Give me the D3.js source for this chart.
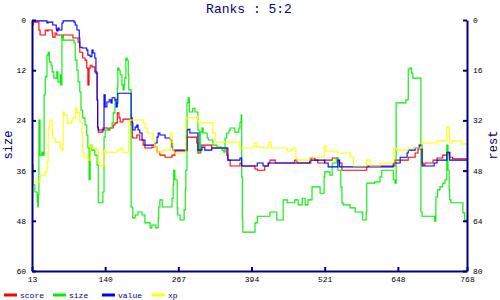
<!DOCTYPE html>
<html><head><meta charset="utf-8">
<script src="https://cdn.jsdelivr.net/npm/d3@7"></script>
<style>
html,body{margin:0;padding:0;background:#fff;}
svg{display:block;}
text{font-family:"Liberation Mono",monospace;}
</style></head>
<body><svg id="c" width="500" height="300"></svg>
<script>
const title = "Ranks : 5:2";
const leftLabel = "size";
const rightLabel = "rest";
const xTicks = [13,140,267,394,521,648,768];
const leftTicks = [0,12,24,36,48,60];
const rightTicks = [0,16,32,48,64,80];
const seriesNames = ["score","size","value","xp"];
const seriesColors = ["#ff0000","#00ee00","#0000ff","#ffff00"];

const score = [[13,1.2],[15,0.5],[25,2.4],[27,3.6],[36,2.4],[39,2.6],[41,2.4],[48,3.1],[49,4.1],[53,3.1],[56,3.6],[65,4.1],[67,3.6],[84,4.3],[93,5.3],[96,7.7],[101,9.1],[105,9.6],[108,11.5],[110,15.5],[112,11.5],[114,10.8],[117,11.2],[122,12.4],[126,19.1],[127,25.8],[128,26.8],[136,25.8],[145,26.3],[148,25.8],[154,25.1],[157,24.6],[161,22.2],[164,23.4],[166,24.4],[171,23.7],[185,25.1],[187,28],[188,28.2],[195,27.5],[200,28.7],[206,29.9],[209,30.6],[221,30.4],[230,31.6],[235,32.3],[244,32.8],[256,32.3],[261,31.3],[282,28],[299,29.4],[301,31.8],[306,29.9],[325,30.6],[351,32.3],[353,33.5],[357,34.9],[374,34.2],[377,34.9],[400,35.6],[404,35.9],[417,34.9],[423,34.2],[426,33.5],[435,34.2],[469,33.5],[473,34.2],[497,33],[504,33.5],[509,34.2],[521,33.5],[534,33],[544,34.2],[551,35.9],[594,34.9],[643,33.5],[666,32.8],[678,31.8],[683,30.8],[690,34.2],[692,34.7],[695,34.2],[709,33.5],[716,33],[726,32.3],[735,31.6],[738,32.8],[743,33.2],[768,33.2]];

const size = [[13,34.7],[15,39.4],[18,41.1],[22,43.5],[23,44.7],[24,41.8],[25,23.9],[27,32.3],[30,31.6],[32,32.3],[34,17.9],[36,13.6],[39,8.4],[41,7.7],[43,10],[46,10.8],[48,12.4],[51,13.9],[56,12.4],[58,14.8],[62,13.1],[63,15.5],[65,3.6],[67,4.8],[86,5.5],[88,9.6],[91,12],[93,14.8],[96,17.2],[98,21.5],[101,23.4],[105,25.1],[108,27.5],[110,30.6],[112,38.2],[114,29.9],[117,31.1],[122,32.3],[126,34.7],[128,43.7],[136,41.1],[138,28],[140,26.3],[148,25.8],[152,24.6],[154,22.2],[157,19.1],[161,16.3],[162,11.5],[164,12],[166,13.1],[169,15.5],[171,16.7],[173,15.5],[174,13.9],[176,9.1],[178,9.6],[180,13.1],[181,16.7],[185,44.7],[187,44.9],[188,47.3],[192,46.6],[197,45.9],[204,46.6],[209,48.5],[218,49.7],[221,49],[228,49.7],[232,47.3],[233,44.7],[235,43],[239,44.7],[256,42.6],[258,39.4],[259,35.9],[261,38.2],[265,44.9],[266,46.6],[270,47.8],[277,45.4],[279,40.6],[280,35.9],[282,19.8],[284,18.6],[286,22],[292,21.1],[296,22],[301,26.3],[303,31.8],[305,26.8],[308,25.8],[310,27],[317,28.2],[319,28.7],[327,29.9],[334,30.4],[343,31.1],[346,31.6],[348,28.2],[351,27],[355,26.3],[357,25.8],[365,26.8],[372,25.8],[374,24.4],[376,22.7],[377,37.5],[378,47.8],[379,50.7],[400,48.5],[404,46.9],[426,45.9],[438,47.8],[449,43],[456,43.7],[469,43],[475,44.2],[482,42.6],[487,44.2],[492,43],[499,39.9],[513,41.4],[520,37.5],[521,36.3],[530,37.1],[534,34.2],[541,33],[544,35.9],[549,39.9],[551,43.7],[553,44.2],[565,44.9],[574,45.9],[587,47.8],[593,45.9],[594,39],[608,38.7],[617,37.5],[620,35.9],[640,38.2],[643,39],[645,19.8],[662,19.1],[666,11.7],[669,11.5],[672,12.7],[674,13.9],[688,45.9],[690,46.9],[712,48.1],[714,42.3],[717,40.6],[721,39.9],[726,39],[730,38.2],[733,29.9],[735,35.9],[737,40.6],[738,43],[740,43.7],[759,43.7],[761,46.1],[764,47.8],[768,48.5]];

const value = [[13,0.2],[39,0.7],[41,0.5],[49,1.2],[55,2.2],[56,2.6],[58,1.9],[60,2.4],[65,0.7],[67,0.2],[86,0.5],[88,1.2],[91,2.4],[95,4.3],[96,6.5],[100,6.7],[108,7.2],[110,8.4],[114,8.8],[117,7.2],[119,7.9],[122,9.1],[124,12.7],[126,19.1],[127,25.6],[128,26.3],[136,26.3],[138,17.9],[140,20.8],[143,19.6],[147,19.1],[150,19.8],[152,18.6],[157,19.1],[159,20.8],[161,19.8],[162,17.5],[183,17.5],[185,23.4],[187,24.6],[188,26.3],[192,25.6],[195,25.1],[197,26.3],[200,27],[204,28.7],[209,29.9],[226,29.4],[230,28],[232,27],[235,27.5],[244,28.2],[253,28.7],[256,30.4],[258,31.1],[282,26.3],[284,26.1],[287,27],[301,31.1],[308,30.4],[313,31.1],[325,30.6],[353,33.5],[374,33],[377,34.9],[404,34.2],[414,34.9],[423,34.2],[495,33.5],[521,34.2],[527,35.1],[544,33.5],[547,35.1],[640,34.2],[652,32.8],[664,31.8],[666,31.1],[678,30.6],[685,29.9],[690,34.9],[711,34.2],[716,33.5],[733,31.6],[738,33.5],[768,33.5]];

const xp = [[13,38.7],[27,37.1],[36,36.3],[39,33.9],[41,25.8],[44,23.9],[48,26.8],[49,28.2],[53,29.2],[62,30.6],[65,31.1],[67,22],[69,22.7],[74,24.6],[82,23.9],[84,23.4],[89,21],[91,22.2],[96,24.4],[100,26.8],[101,31.6],[103,32.8],[110,33.5],[114,29.9],[117,30.6],[126,31.1],[128,34.2],[131,34.9],[138,31.1],[140,31.6],[162,31.1],[166,30.6],[171,31.6],[181,24.1],[183,23.9],[206,24.6],[209,25.8],[213,26.8],[214,27],[223,28.7],[226,30.4],[230,31.8],[232,31.6],[240,31.1],[253,27],[256,29.2],[258,30.6],[259,31.8],[280,23.4],[299,23],[301,24.6],[327,27],[331,29.2],[372,29.9],[374,30.6],[398,29.4],[402,30.4],[414,30.6],[424,29.2],[428,30.6],[456,31.3],[461,31.1],[466,30.6],[471,32.8],[473,33.5],[495,32.8],[520,30.1],[523,31.3],[544,31.8],[565,32.8],[571,34.9],[594,33.5],[600,34.9],[617,34.2],[641,30.6],[646,31.1],[666,30.6],[690,29.2],[692,29.4],[716,28.9],[733,25.6],[737,27.5],[738,29.4],[743,28.9],[759,29.6],[768,29.6]];

const allSeries = [score,size,value,xp];

const navy = "#000080";
const svg = d3.select("#c");
const x = d3.scaleLinear().domain([13,768]).range([32,467]);
const yL = d3.scaleLinear().domain([0,60]).range([20,271]);
const yR = d3.scaleLinear().domain([0,80]).range([20,271]);

const line = d3.line().x(d=>x(d[0])).y(d=>yL(d[1])).curve(d3.curveStepAfter);
allSeries.forEach((s,i)=>{
  svg.append("path").datum(s).attr("d",line)
    .attr("fill","none").attr("stroke",seriesColors[i]).attr("stroke-width",1.1);
});

function styleAxis(g){
  g.select(".domain").attr("stroke",navy).attr("stroke-width",2);
  g.selectAll(".tick line").attr("stroke",navy).attr("stroke-width",2);
  g.selectAll(".tick text").attr("fill","#000").attr("font-size",8)
    .attr("font-family","Liberation Mono, monospace");
}
svg.append("g").attr("transform","translate(32,0)")
  .call(d3.axisLeft(yL).tickValues(leftTicks).tickSize(-4).tickSizeOuter(0).tickPadding(6))
  .call(styleAxis);
svg.append("g").attr("transform","translate(467,0)")
  .call(d3.axisRight(yR).tickValues(rightTicks).tickSize(-4).tickSizeOuter(0).tickPadding(6))
  .call(styleAxis);
svg.append("g").attr("transform","translate(0,271)")
  .call(d3.axisBottom(x).tickValues(xTicks).tickSize(-4).tickSizeOuter(0).tickPadding(5))
  .call(styleAxis);

svg.append("text").attr("x",249).attr("y",13).attr("text-anchor","middle")
  .attr("fill",navy).attr("font-size",13).text(title);
svg.append("text").attr("transform","translate(12,145) rotate(-90)").attr("text-anchor","middle")
  .attr("fill",navy).attr("font-size",12).text(leftLabel);
svg.append("text").attr("transform","translate(497,145) rotate(-90)").attr("text-anchor","middle")
  .attr("fill",navy).attr("font-size",12).text(rightLabel);

const legendX = [4,53,102,152];
seriesNames.forEach((n,i)=>{
  svg.append("line").attr("x1",legendX[i]).attr("x2",legendX[i]+13).attr("y1",295).attr("y2",295)
    .attr("stroke",seriesColors[i]).attr("stroke-width",3);
  svg.append("text").attr("x",legendX[i]+16).attr("y",298).attr("font-size",8).attr("fill",navy).text(n);
});
</script></body></html>
